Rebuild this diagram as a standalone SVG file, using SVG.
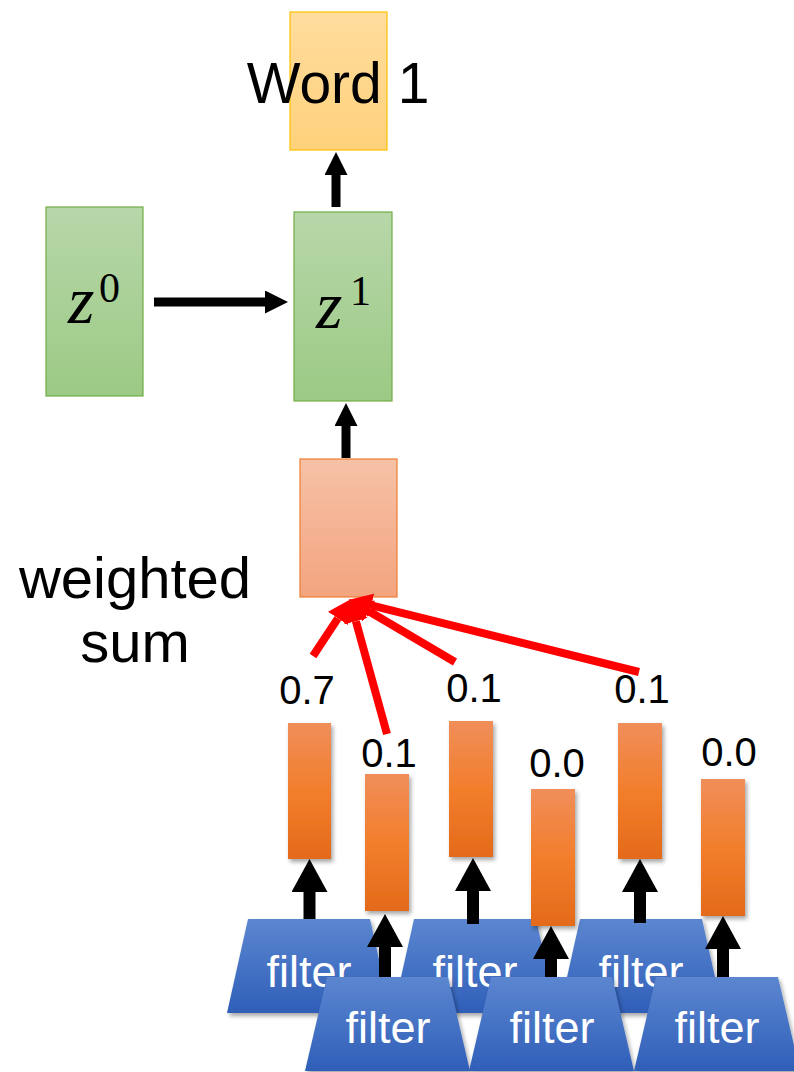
<svg xmlns="http://www.w3.org/2000/svg" width="794" height="1072" viewBox="0 0 794 1072">
<defs>
<linearGradient id="gWord" x1="0" y1="0" x2="0" y2="1"><stop offset="0" stop-color="#FFDD9E"/><stop offset="1" stop-color="#FFD17B"/></linearGradient>
<linearGradient id="gZ" x1="0" y1="0" x2="0" y2="1"><stop offset="0" stop-color="#B7D7A9"/><stop offset="1" stop-color="#9CCA85"/></linearGradient>
<linearGradient id="gSum" x1="0" y1="0" x2="0" y2="1"><stop offset="0" stop-color="#F6C1A6"/><stop offset="1" stop-color="#F3A47F"/></linearGradient>
<linearGradient id="gBar" x1="0" y1="0" x2="0" y2="1"><stop offset="0" stop-color="#F08E5A"/><stop offset="0.5" stop-color="#F27E2C"/><stop offset="1" stop-color="#E46A1A"/></linearGradient>
<linearGradient id="gFilt" x1="0" y1="0" x2="0" y2="1"><stop offset="0" stop-color="#5C86D0"/><stop offset="1" stop-color="#2F5FB8"/></linearGradient>
<filter id="sh" x="-20%" y="-20%" width="150%" height="150%"><feDropShadow dx="2" dy="3" stdDeviation="2" flood-color="#000" flood-opacity="0.35"/></filter>
<marker id="hS" markerUnits="userSpaceOnUse" markerWidth="24" markerHeight="24" refX="0" refY="11.5" orient="auto"><path d="M0,0 L23,11.5 L0,23 Z" fill="#000"/></marker>
<marker id="hL" markerUnits="userSpaceOnUse" markerWidth="34" markerHeight="37" refX="0" refY="18" orient="auto"><path d="M0,0 L33,18 L0,36 Z" fill="#000"/></marker>
<marker id="hR" markerUnits="userSpaceOnUse" markerWidth="26" markerHeight="26" refX="0" refY="12" orient="auto"><path d="M0,0 L23,12 L0,24 Z" fill="#FF0000"/></marker>
</defs>
<style>
.lbl{font-family:"Liberation Sans","Open Sans",sans-serif;fill:#000}
.num{font-family:"Liberation Sans","Open Sans",sans-serif;font-size:40px;fill:#000;text-anchor:middle}
.ft{font-family:"Liberation Sans","Open Sans",sans-serif;font-size:45px;fill:#FFF;text-anchor:middle}
.math{font-family:"Liberation Serif","DejaVu Serif",serif;fill:#000}
.bar{fill:url(#gBar);filter:url(#sh)}
.flt{fill:url(#gFilt);filter:url(#sh)}
.zbox{fill:url(#gZ);stroke:#70AD47;stroke-width:1.2}
.blkS{stroke:#000;stroke-width:9;fill:none;marker-end:url(#hS)}
.blkL{stroke:#000;stroke-width:12;fill:none;marker-end:url(#hL)}
.red{stroke:#FF0000;stroke-width:8;fill:none;marker-end:url(#hR)}
</style>
<rect width="794" height="1072" fill="#FFF"/>

<g id="word1">
<rect x="290" y="12" width="97" height="138" fill="url(#gWord)" stroke="#FFC000" stroke-width="1.2"/>
<text class="lbl" x="338" y="103" font-size="57" text-anchor="middle">Word 1</text>
</g>
<g id="z0">
<rect class="zbox" x="46" y="207" width="97" height="189"/>
<text class="math" x="68" y="323" font-size="68" font-style="italic">z</text>
<text class="math" x="99" y="302" font-size="42">0</text>
</g>
<g id="z1">
<rect class="zbox" x="294" y="212" width="98" height="189"/>
<text class="math" x="316" y="328" font-size="68" font-style="italic">z</text>
<text class="math" x="350" y="305" font-size="42">1</text>
</g>
<g id="weighted-sum">
<rect x="300" y="459" width="97" height="138" fill="url(#gSum)" stroke="#ED7D31" stroke-width="1.2"/>
</g>
<g id="weighted-sum-label">
<text class="lbl" x="135" y="598" font-size="58" text-anchor="middle">weighted</text>
<text class="lbl" x="135" y="662" font-size="58" text-anchor="middle">sum</text>
</g>

<g id="filters-back">
<polygon class="flt" points="248,919 370,919 391,1013 227,1013"/>
<text class="ft" x="309" y="987">filter</text>
<polygon class="flt" points="414,919 536,919 557,1013 393,1013"/>
<text class="ft" x="475" y="987">filter</text>
<polygon class="flt" points="580,919 702,919 723,1013 559,1013"/>
<text class="ft" x="641" y="987">filter</text>
</g>

<g id="bars">
<rect class="bar" x="288" y="723" width="43" height="136"/>
<rect class="bar" x="365" y="774" width="44" height="137"/>
<rect class="bar" x="449" y="721" width="44" height="136"/>
<rect class="bar" x="531" y="789" width="44" height="137"/>
<rect class="bar" x="618" y="723" width="44" height="136"/>
<rect class="bar" x="701" y="779" width="44" height="137"/>
</g>
<g id="weights">
<text class="num" x="307" y="704">0.7</text>
<text class="num" x="389" y="767">0.1</text>
<text class="num" x="474" y="702">0.1</text>
<text class="num" x="557" y="777">0.0</text>
<text class="num" x="642" y="703">0.1</text>
<text class="num" x="729" y="766">0.0</text>
</g>

<g id="connectors">
<line class="blkS" x1="336" y1="207" x2="336" y2="175"/>
<line class="blkS" x1="154" y1="302" x2="265" y2="302"/>
<line class="blkS" x1="346" y1="458" x2="346" y2="426"/>
<line class="red" x1="313" y1="656" x2="337.9" y2="618.4"/>
<line class="red" x1="387" y1="734" x2="355.9" y2="621.2"/>
<line class="red" x1="455" y1="662" x2="368.9" y2="611.2"/>
<line class="red" x1="639" y1="672" x2="371.3" y2="605.3"/>
<line class="blkL" x1="309.5" y1="919" x2="309.5" y2="892"/>
<line class="blkL" x1="385" y1="977" x2="385" y2="947"/>
<line class="blkL" x1="473" y1="924" x2="473" y2="891"/>
<line class="blkL" x1="551" y1="983" x2="551" y2="959"/>
<line class="blkL" x1="640" y1="923" x2="640" y2="892"/>
<line class="blkL" x1="723" y1="980" x2="723" y2="949"/>
</g>

<g id="filters-front">
<polygon class="flt" points="327,977 448,977 470,1071 305,1071"/>
<text class="ft" x="388" y="1043">filter</text>
<polygon class="flt" points="491,977 612,977 634,1071 469,1071"/>
<text class="ft" x="552" y="1043">filter</text>
<polygon class="flt" points="656,977 778,977 800,1071 634,1071"/>
<text class="ft" x="717" y="1043">filter</text>
</g>
</svg>
